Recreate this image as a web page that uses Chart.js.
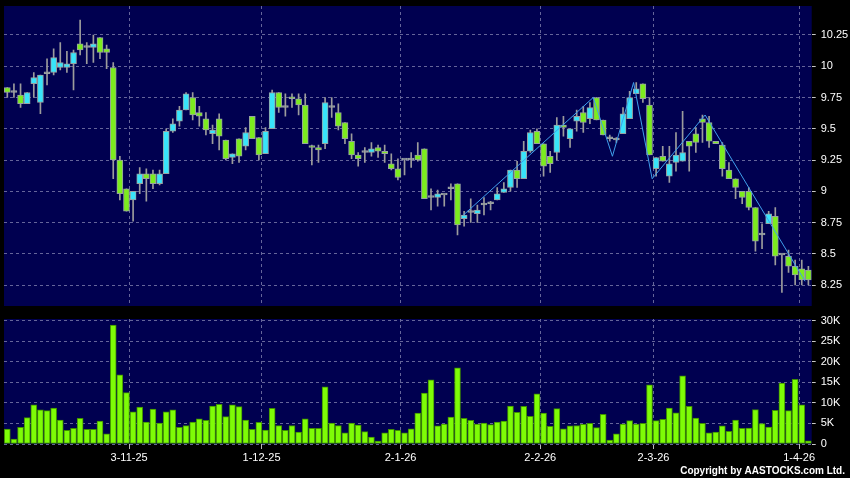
<!DOCTYPE html>
<html>
<head>
<meta charset="utf-8">
<title>AASTOCKS daily chart</title>
<script src="https://cdn.jsdelivr.net/npm/chart.js@4.4.1/dist/chart.umd.min.js"></script>
<style>
  html, body { margin: 0; padding: 0; background: #000; }
  #wrap { position: relative; width: 850px; height: 478px; }
  #wrap canvas { position: absolute; left: 0; top: 0; }
</style>
</head>
<body>
<div id="wrap">
  <canvas id="priceChart" width="850" height="478"></canvas>
  <canvas id="volChart" width="850" height="478"></canvas>
</div>
<script>
// ==========================================
// DATA (one entry per trading day)
// ==========================================
const opens = [
  9.83, 9.79, 9.77, 9.70, 9.86, 9.71, 9.94, 9.95, 9.99, 9.99,
  10.02, 10.18, 10.15, 10.15, 10.23, 10.14, 9.99, 9.25, 9.02, 8.93,
  9.06, 9.14, 9.14, 9.06, 9.14, 9.48, 9.56, 9.65, 9.75, 9.63,
  9.58, 9.46, 9.58, 9.41, 9.27, 9.42, 9.36, 9.60, 9.43, 9.30,
  9.50, 9.79, 9.67, 9.75, 9.74, 9.69, 9.36, 9.35, 9.38, 9.67,
  9.63, 9.55, 9.40, 9.29, 9.31, 9.31, 9.35, 9.32, 9.22, 9.18,
  9.25, 9.25, 9.29, 9.34, 8.95, 8.95, 8.97, 9.02, 9.06, 8.78,
  8.83, 8.82, 8.89, 8.90, 8.93, 8.99, 9.03, 9.17, 9.10, 9.32,
  9.48, 9.38, 9.28, 9.31, 9.53, 9.42, 9.56, 9.63, 9.58, 9.75,
  9.57, 9.42, 9.41, 9.46, 9.58, 9.78, 9.86, 9.69, 9.18, 9.28,
  9.12, 9.23, 9.24, 9.40, 9.46, 9.58, 9.55, 9.40, 9.37, 9.17,
  9.10, 9.00, 9.00, 8.87, 8.65, 8.74, 8.80, 8.49, 8.48, 8.40,
  8.38, 8.37
];
const highs = [
  9.83, 9.86, 9.86, 9.79, 9.95, 9.93, 10.06, 10.14, 10.19, 10.12,
  10.13, 10.37, 10.19, 10.25, 10.23, 10.17, 10.03, 9.28, 9.02, 9.00,
  9.19, 9.18, 9.17, 9.17, 9.50, 9.58, 9.68, 9.79, 9.79, 9.68,
  9.63, 9.53, 9.62, 9.41, 9.30, 9.42, 9.51, 9.60, 9.43, 9.51,
  9.81, 9.79, 9.78, 9.78, 9.78, 9.78, 9.37, 9.37, 9.75, 9.75,
  9.70, 9.55, 9.46, 9.31, 9.35, 9.39, 9.37, 9.37, 9.30, 9.26,
  9.25, 9.31, 9.39, 9.34, 9.02, 9.01, 8.97, 9.06, 9.06, 8.84,
  8.94, 8.89, 8.95, 8.92, 9.03, 9.07, 9.17, 9.24, 9.40, 9.49,
  9.50, 9.38, 9.32, 9.59, 9.60, 9.50, 9.65, 9.68, 9.71, 9.75,
  9.57, 9.45, 9.43, 9.67, 9.80, 9.87, 9.86, 9.75, 9.27, 9.36,
  9.36, 9.47, 9.64, 9.40, 9.51, 9.61, 9.60, 9.40, 9.39, 9.23,
  9.10, 9.00, 9.03, 8.87, 8.74, 8.84, 8.87, 8.49, 8.53, 8.45,
  8.45, 8.40
];
const lows = [
  9.75, 9.75, 9.67, 9.70, 9.75, 9.62, 9.85, 9.93, 9.97, 9.95,
  9.81, 10.09, 10.02, 10.03, 10.06, 9.98, 9.10, 8.93, 8.84, 8.76,
  8.98, 8.92, 9.02, 9.05, 9.14, 9.47, 9.52, 9.65, 9.57, 9.52,
  9.45, 9.38, 9.33, 9.25, 9.22, 9.23, 9.33, 9.42, 9.25, 9.30,
  9.50, 9.63, 9.60, 9.67, 9.61, 9.38, 9.21, 9.23, 9.34, 9.59,
  9.49, 9.38, 9.26, 9.20, 9.23, 9.28, 9.27, 9.23, 9.17, 9.09,
  9.13, 9.19, 9.24, 8.94, 8.85, 8.88, 8.88, 8.93, 8.65, 8.72,
  8.75, 8.75, 8.81, 8.85, 8.93, 8.99, 9.00, 9.03, 9.10, 9.31,
  9.38, 9.12, 9.15, 9.25, 9.44, 9.35, 9.48, 9.47, 9.54, 9.57,
  9.45, 9.40, 9.39, 9.46, 9.58, 9.78, 9.71, 9.29, 9.12, 9.24,
  9.07, 9.16, 9.24, 9.16, 9.31, 9.39, 9.35, 9.38, 9.12, 9.10,
  8.94, 8.90, 8.85, 8.52, 8.54, 8.74, 8.41, 8.19, 8.35, 8.25,
  8.25, 8.25
];
const closes = [
  9.79, 9.79, 9.70, 9.79, 9.91, 9.93, 9.94, 10.07, 10.03, 10.02,
  10.11, 10.13, 10.15, 10.18, 10.11, 10.11, 9.25, 8.98, 8.84, 9.00,
  9.14, 9.10, 9.06, 9.14, 9.48, 9.54, 9.65, 9.78, 9.61, 9.60,
  9.49, 9.49, 9.44, 9.26, 9.30, 9.28, 9.47, 9.42, 9.29, 9.48,
  9.79, 9.67, 9.67, 9.74, 9.69, 9.38, 9.35, 9.33, 9.71, 9.67,
  9.52, 9.42, 9.29, 9.26, 9.31, 9.34, 9.32, 9.30, 9.18, 9.11,
  9.25, 9.25, 9.25, 8.94, 8.95, 8.98, 8.97, 9.02, 8.73, 8.81,
  8.83, 8.85, 8.89, 8.90, 8.98, 9.02, 9.17, 9.10, 9.32, 9.47,
  9.38, 9.20, 9.22, 9.53, 9.51, 9.50, 9.60, 9.55, 9.67, 9.57,
  9.45, 9.42, 9.41, 9.62, 9.75, 9.82, 9.74, 9.29, 9.27, 9.24,
  9.22, 9.29, 9.31, 9.36, 9.39, 9.55, 9.40, 9.38, 9.18, 9.10,
  9.03, 8.95, 8.87, 8.60, 8.65, 8.82, 8.48, 8.49, 8.40, 8.33,
  8.29, 8.29
];
const volumes = [
  3650, 1200, 4050, 6400, 9500, 8300, 8100, 8760, 5840, 3300,
  3800, 6250, 3570, 3570, 5600, 2500, 28900, 16800, 12500, 7800,
  9000, 5350, 8500, 5100, 7800, 8300, 4050, 4460, 5350, 6100,
  5760, 9250, 9650, 6650, 9500, 9100, 5840, 3570, 5270, 3400,
  8700, 4460, 3300, 4500, 2900, 6100, 3800, 3800, 13900, 5100,
  4460, 2700, 5100, 4600, 3000, 1700, 730, 2700, 3570, 3300,
  2700, 3700, 7500, 12400, 15600, 4400, 4870, 6570, 18500, 6250,
  5760, 4870, 5100, 4700, 5350, 5600, 9250, 7700, 9160, 6700,
  12200, 7500, 4300, 8600, 3700, 4400, 4500, 4800, 5000, 4000,
  7200, 970, 2500, 4870, 5700, 4870, 5000, 14400, 5700, 6000,
  8760, 7600, 16600, 9160, 6300, 5000, 2700, 2900, 4400, 3100,
  5840, 3800, 3900, 8350, 4950, 4100, 8200, 14800, 8100, 15700,
  9500, 800
];

// trend line drawn over the candles (position in trading days, price)
const zigX = [68.9, 88.5, 91.4, 94.6, 97.4, 105.4, 120.5];
const zigY = [8.81, 9.75, 9.28, 9.87, 9.10, 9.61, 8.28];

// axes
const tickPos = [18.4, 38.4, 59.4, 80.5, 97.6, 119.6];
const tickText = ['3-11-25', '1-12-25', '2-1-26', '2-2-26', '2-3-26', '1-4-26'];
const priceTicks = [8.25, 8.5, 8.75, 9, 9.25, 9.5, 9.75, 10, 10.25];
const volTicks = [0, 5000, 10000, 15000, 20000, 25000, 30000];
const priceMin = 8.082, priceMax = 10.482;
const volMax = 30400;

// ==========================================
// STYLE
// ==========================================
const NAVY = '#000050';
const GRID = '#65659a';
const UP = '#38e4fa';
const DOWN = '#7cec1e';
const FLAT = '#a4a4a4';
const TEXT = '#ffffff';
const FONT = { family: '"Liberation Sans", Arial, sans-serif', size: 11 };

const days = opens.length;
const wicks = lows.map((l, i) => ({ x: i, y: [l, highs[i]] }));
const bodies = opens.map((o, i) => ({ x: i, y: [o, closes[i]] }));
const bodyColor = opens.map((o, i) => closes[i] > o ? UP : (closes[i] < o ? DOWN : FLAT));
const volBars = volumes.map((v, i) => ({ x: i, y: v }));
const zigzag = zigX.map((x, i) => ({ x: x, y: zigY[i] }));

// navy panel behind each plot area
const panelBg = {
  id: 'panelBg',
  beforeDraw(chart) {
    const a = chart.chartArea, c = chart.ctx;
    c.save();
    c.fillStyle = NAVY;
    c.fillRect(a.left, a.top, a.right - a.left, a.bottom - a.top);
    c.restore();
  }
};

const copyright = {
  id: 'copyright',
  afterDraw(chart) {
    const c = chart.ctx;
    c.save();
    c.font = 'bold 10px "Liberation Sans", Arial, sans-serif';
    c.fillStyle = TEXT;
    c.textAlign = 'right';
    c.textBaseline = 'middle';
    c.fillText('Copyright by AASTOCKS.com Ltd.', 845, 471);
    c.restore();
  }
};

function fixWidth(w) {
  return s => { s.width = w; s.paddingTop = 0; s.paddingBottom = 0; };
}
function fixHeight(h) {
  return s => { s.height = h; s.paddingLeft = 0; s.paddingRight = 0; };
}

// day axis: one unit per trading day, labels only at month starts
function dateAxis(showLabels) {
  return {
    type: 'linear',
    position: 'bottom',
    bounds: 'data',
    offset: false,
    min: -0.5,
    max: days - 0.5,
    afterBuildTicks: s => { s.ticks = tickPos.map(v => ({ value: v })); },
    ticks: {
      display: showLabels,
      autoSkip: false,
      maxRotation: 0,
      color: TEXT,
      font: FONT,
      padding: 2,
      callback: (v, i) => tickText[i]
    },
    grid: { offset: false, color: GRID, drawTicks: showLabels, tickColor: '#b8b8b8', tickLength: 5 },
    border: { display: false, dash: [3, 3] },
    afterFit: fixHeight(showLabels ? 34 : 0)
  };
}

// ==========================================
// PRICE PANEL (candles from floating bars)
// ==========================================
new Chart(document.getElementById('priceChart'), {
  type: 'bar',
  data: {
    datasets: [
      {
        type: 'line',
        data: zigzag,
        borderColor: '#3f9fec',
        borderWidth: 1,
        pointRadius: 0,
        order: 0
      },
      {
        data: bodies,
        backgroundColor: bodyColor,
        borderColor: '#98a2a2',
        borderWidth: 1,
        borderSkipped: false,
        barThickness: 6,
        minBarLength: 2,
        grouped: false,
        order: 1
      },
      {
        data: wicks,
        backgroundColor: '#9c9c9c',
        barThickness: 1,
        grouped: false,
        order: 2
      }
    ]
  },
  options: {
    responsive: false,
    animation: false,
    layout: { padding: { left: 4, top: 6, right: 0, bottom: 172 } },
    plugins: { legend: { display: false }, tooltip: { enabled: false } },
    scales: {
      x: dateAxis(false),
      y: {
        position: 'right',
        min: priceMin,
        max: priceMax,
        afterBuildTicks: s => { s.ticks = priceTicks.map(v => ({ value: v })); },
        ticks: { color: TEXT, font: FONT, padding: 5, callback: v => String(v) },
        grid: { color: GRID, tickColor: '#c8c8c8', tickLength: 4 },
        border: { display: false, dash: [3, 3] },
        afterFit: fixWidth(38.3)
      }
    }
  },
  plugins: [panelBg]
});

// ==========================================
// VOLUME PANEL
// ==========================================
new Chart(document.getElementById('volChart'), {
  type: 'bar',
  data: {
    datasets: [{
      data: volBars,
      backgroundColor: '#7efc06',
      borderColor: '#3f8f00',
      borderWidth: 1,
      borderSkipped: false,
      barThickness: 6
    }]
  },
  options: {
    responsive: false,
    animation: false,
    layout: { padding: { left: 4, top: 319, right: 0, bottom: 0 } },
    plugins: { legend: { display: false }, tooltip: { enabled: false } },
    scales: {
      x: dateAxis(true),
      y: {
        position: 'right',
        min: 0,
        max: volMax,
        afterBuildTicks: s => { s.ticks = volTicks.map(v => ({ value: v })); },
        ticks: { color: TEXT, font: FONT, padding: 5, callback: v => v === 0 ? '0' : (v / 1000) + 'K' },
        grid: { color: GRID, tickColor: '#c8c8c8', tickLength: 4 },
        border: { display: false, dash: [3, 3] },
        afterFit: fixWidth(38.3)
      }
    }
  },
  plugins: [panelBg, copyright]
});
</script>
</body>
</html>
